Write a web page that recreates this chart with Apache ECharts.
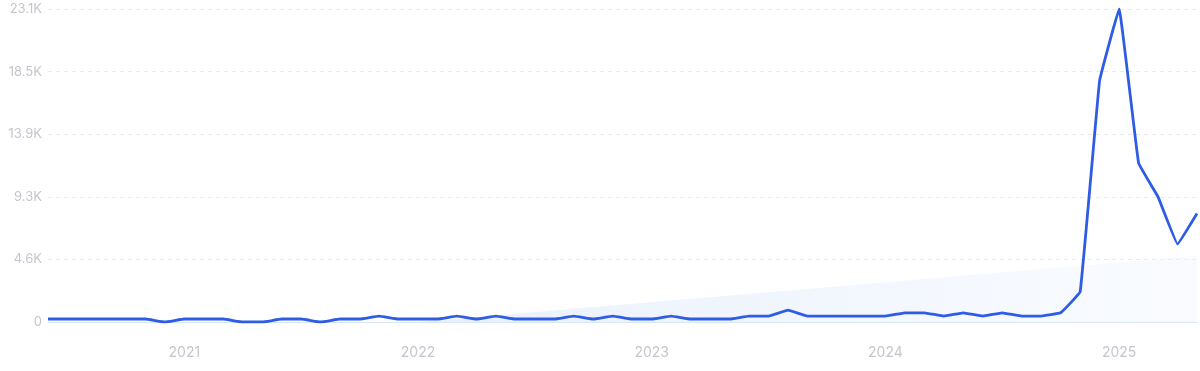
<!DOCTYPE html>
<html>
<head>
<meta charset="utf-8">
<script src="https://cdn.jsdelivr.net/npm/echarts@6/dist/echarts.min.js"></script>
<style>
html,body{margin:0;padding:0;background:#fff;}
#chart{width:1200px;height:371px;}
</style>
</head>
<body>
<div id="chart"></div>
<script>
// Months June 2020 .. May 2025
const months = [
  "2020-06","2020-07","2020-08","2020-09","2020-10","2020-11","2020-12",
  "2021-01","2021-02","2021-03","2021-04","2021-05","2021-06","2021-07","2021-08","2021-09","2021-10","2021-11","2021-12",
  "2022-01","2022-02","2022-03","2022-04","2022-05","2022-06","2022-07","2022-08","2022-09","2022-10","2022-11","2022-12",
  "2023-01","2023-02","2023-03","2023-04","2023-05","2023-06","2023-07","2023-08","2023-09","2023-10","2023-11","2023-12",
  "2024-01","2024-02","2024-03","2024-04","2024-05","2024-06","2024-07","2024-08","2024-09","2024-10","2024-11","2024-12",
  "2025-01","2025-02","2025-03","2025-04","2025-05"
];
const searches = [
  220,220,220,220,220,220,0,
  220,220,220,0,0,220,220,0,220,220,440,220,
  220,220,440,220,440,220,220,220,440,220,440,220,
  220,440,220,220,220,440,440,880,440,440,440,440,
  440,680,680,440,680,440,680,440,440,680,2230,17860,
  23140,11760,9250,5760,8020
];
// Trend line endpoints (index, value)
const trendStart = [19, 0];
const trendEnd = [59, 4900];
const yTickLabels = ["0","4.6K","9.3K","13.9K","18.5K","23.1K"];
const yMax = 23140;
const yInterval = 4628;

const trend = months.map((m, i) => i === trendStart[0] ? trendStart[1] : (i === trendEnd[0] ? trendEnd[1] : null));

const chart = echarts.init(document.getElementById('chart'), null, {renderer: 'canvas'});
chart.setOption({
  animation: false,
  backgroundColor: '#ffffff',
  grid: {left: 48, right: 3, top: 9, bottom: 49, containLabel: false},
  xAxis: {
    type: 'category',
    data: months,
    boundaryGap: false,
    axisLine: {show: true, lineStyle: {color: '#d9e6f7', width: 1}},
    axisTick: {show: false},
    splitLine: {show: false},
    axisLabel: {
      interval: (idx, val) => val.endsWith('-01'),
      formatter: (val) => val.slice(0, 4),
      color: '#c5c5cd',
      fontSize: 14,
      fontFamily: 'Inter, "Noto Sans", sans-serif',
      margin: 24
    }
  },
  yAxis: {
    type: 'value',
    min: 0,
    max: yMax,
    interval: yInterval,
    axisLine: {show: false},
    axisTick: {show: false},
    splitLine: {show: true, lineStyle: {color: '#e4e9f2', type: [4, 4], width: 1}},
    axisLabel: {
      formatter: (v) => yTickLabels[Math.round(v / yInterval)],
      color: '#c5c5cd',
      fontSize: 13,
      fontFamily: 'Inter, "Noto Sans", sans-serif',
      margin: 6
    }
  },
  series: [
    {
      type: 'line',
      data: trend,
      connectNulls: true,
      symbol: 'none',
      silent: true,
      z: 1,
      lineStyle: {width: 0, opacity: 0},
      areaStyle: {
        origin: 'start',
        color: new echarts.graphic.LinearGradient(0, 0, 1, 0, [
          {offset: 0, color: 'rgba(218,231,251,0.85)'},
          {offset: 1, color: 'rgba(240,245,254,0.6)'}
        ])
      }
    },
    {
      type: 'line',
      data: searches,
      symbol: 'none',
      smooth: 0.06,
      z: 3,
      lineStyle: {color: '#2f5ce4', width: 2.8, join: 'round'}
    }
  ]
});
</script>
</body>
</html>
